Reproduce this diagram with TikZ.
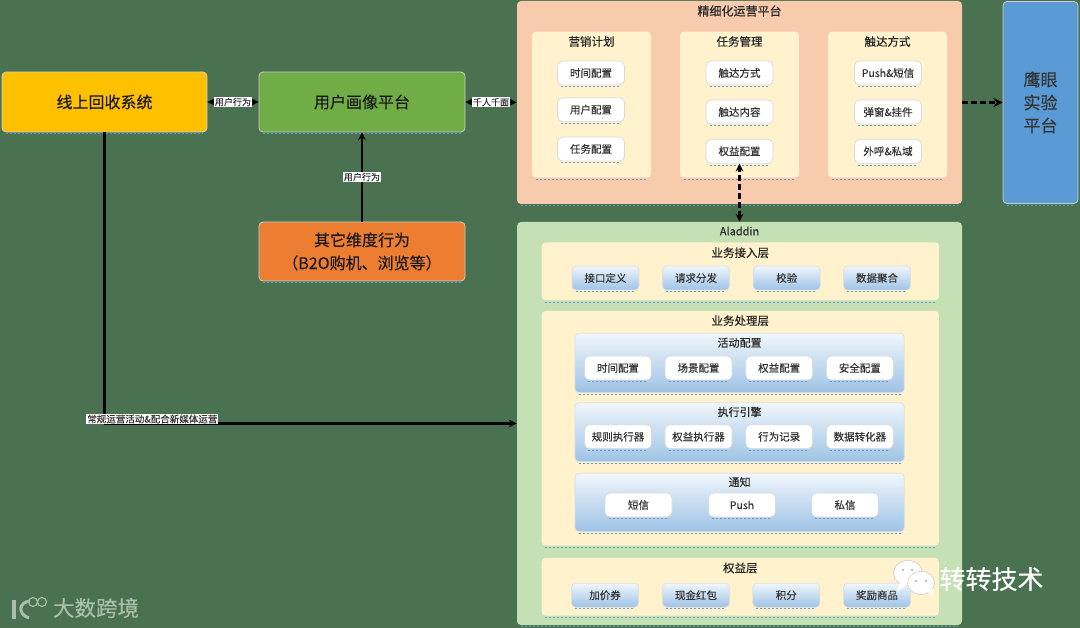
\documentclass[tikz,border=0pt]{standalone}
\usepackage{fontspec}
\setmainfont{Noto Sans CJK SC}[FakeBold=0.15]
\definecolor{bggreen}{HTML}{4A7250}
\definecolor{peach}{HTML}{F8CBAD}
\definecolor{leaf}{HTML}{C5E0B4}
\definecolor{cream}{HTML}{FFF2CC}
\definecolor{sky}{HTML}{9DC3E6}
\definecolor{mark}{HTML}{5B9BD5}
\definecolor{fadegray}{HTML}{A9BFAB}
\definecolor{amber}{HTML}{FFC000}
\definecolor{grass}{HTML}{70AD47}
\definecolor{carrot}{HTML}{ED7D31}
\tikzset{every picture/.style={line width=0.75pt}}
\tikzset{
  under/.style={append after command={([xshift=4pt,yshift=-1.2pt]\tikzlastnode.south west) edge[draw=mark,line width=0.7pt,dash pattern=on 2pt off 2pt] ([xshift=-4pt,yshift=-1.2pt]\tikzlastnode.south east)}},
  bigbox/.style={draw=gray!40,rounded corners=4pt,inner sep=0pt,under,font=\fontsize{16}{23}\selectfont,align=center,text=black!90},
  panel/.style={rounded corners=4pt,inner sep=0pt,under},
  block/.style={fill=cream,rounded corners=4pt,inner sep=0pt,under},
  grad/.style={draw=gray!25,top color=white!85!sky,bottom color=sky,rounded corners=4pt,inner sep=0pt,under},
  cell/.style={fill=white,draw=gray!30,rounded corners=5pt,minimum width=67pt,minimum height=24pt,inner sep=0pt,under,font=\fontsize{10.5}{12}\selectfont,text=black!80},
  chip/.style={grad,minimum width=67pt,minimum height=24pt,font=\fontsize{10.5}{12}\selectfont,text=black!80},
  head/.style={inner sep=0pt,font=\fontsize{11.5}{13}\selectfont,text=black!85},
  tag/.style={fill=white,inner sep=1pt,font=\fontsize{9}{10}\selectfont,text=black!80},
  link/.style={draw=black,line width=2.4pt,>=stealth},
  dlink/.style={link,dash pattern=on 6pt off 3pt}
}
\begin{document}
\begin{tikzpicture}[x=1pt,y=-1pt,line join=round]
\path[use as bounding box,fill=bggreen] (0,0) rectangle (1080,628);
% left column
\node[bigbox,fill=amber,minimum width=205pt,minimum height=60pt] (recycle) at (104.5,102) {线上回收系统};
\node[bigbox,fill=grass,minimum width=206pt,minimum height=60pt] (portrait) at (362,102) {用户画像平台};
\node[bigbox,fill=carrot,minimum width=206pt,minimum height=59pt] (other) at (362,251.5) {其它维度行为\\（B2O购机、浏览等）};
\node[bigbox,fill=mark,minimum width=75pt,minimum height=202pt,text=black!80,font=\fontsize{17}{23}\selectfont] (hawk) at (1040.5,102.5) {鹰眼\\实验\\平台};
% operation platform
\node[panel,fill=peach,minimum width=445pt,minimum height=203pt] (platform) at (739.5,102.5) {};
\node[head,font=\fontsize{12}{14}\selectfont] (platformt) at (739.5,11) {精细化运营平台};
\foreach \n/\x/\t in {plan/591.5/营销计划,task/739.5/任务管理,reach/887.5/触达方式}{
  \node[block,minimum width=119pt,minimum height=146pt] (\n) at (\x,104.7) {};
  \node[head] (\n t) at (\x,41.5) {\t};
}
\foreach \n/\x/\y/\t in {p1/591/73/时间配置,p2/591/109.7/用户配置,p3/591/149/任务配置,
  t1/739.5/73/触达方式,t2/739.5/112/触达内容,t3/739.5/151.3/权益配置,
  r1/888/73/Push\&短信,r2/888/112/弹窗\&挂件,r3/888/151.3/外呼\&私域}
  \node[cell] (\n) at (\x,\y) {\t};
% aladdin
\node[panel,fill=leaf,minimum width=445pt,minimum height=403pt] (aladdin) at (739.5,423.5) {};
\node[head,font=\fontsize{11}{13}\selectfont] (aladdint) at (739.5,231) {Aladdin};
\foreach \n/\y/\h/\ty/\t in {access/271.3/58/252.7/业务接入层,logic/428.3/234.7/320.7/业务处理层,benefit/586.8/57.7/568/权益层}{
  \node[block,minimum width=397.3pt,minimum height=\h pt] (\n) at (740.3,\y) {};
  \node[head] (\n t) at (740.3,\ty) {\t};
}
\foreach \n/\y/\h/\ty/\t in {config/363/59.4/342.7/活动配置,engine/432.2/59/412/执行引擎,notice/502.5/58.4/482/通知}{
  \node[grad,minimum width=329.3pt,minimum height=\h pt] (\n) at (739.6,\y) {};
  \node[head,font=\fontsize{11}{13}\selectfont] (\n t) at (739.6,\ty) {\t};
}
\foreach \n/\x/\t in {a1/605.5/接口定义,a2/696/请求分发,a3/786.7/校验,a4/877/数据聚合}
  \node[chip] (\n) at (\x,278) {\t};
\foreach \n/\x/\t in {c1/618/时间配置,c2/698.5/场景配置,c3/779.2/权益配置,c4/859.8/安全配置}
  \node[cell] (\n) at (\x,368) {\t};
\foreach \n/\x/\t in {e1/618/规则执行器,e2/698.5/权益执行器,e3/779.2/行为记录,e4/859.8/数据转化器}
  \node[cell] (\n) at (\x,436.7) {\t};
\foreach \n/\x/\t in {n1/638.5/短信,n2/742/Push,n3/845/私信}
  \node[cell] (\n) at (\x,505) {\t};
\foreach \n/\x/\t in {b1/605/加价券,b2/696/现金红包,b3/786.3/积分,b4/877/奖励商品}
  \node[chip] (\n) at (\x,595.2) {\t};
% connectors
\draw[link,<->] (recycle) -- node[tag] (tagone) {用户行为} (portrait);
\draw[link,<->] (portrait) -- node[tag] (tagtwo) {千人千面} (platform);
\draw[link,->] (other) -- node[tag] (tagthree) {用户行为} (portrait);
\draw[link,->] (recycle.south) |- node[tag,pos=0.558,yshift=4.5pt,font=\fontsize{9.5}{10}\selectfont] (tagfour) {常规运营活动\&配合新媒体运营} (aladdin.west);
\draw[dlink,->,line width=3pt] (platform) -- (hawk);
\draw[dlink,<->] (aladdin.north) -- (t3.south);
% watermarks
\fill[white,draw=gray!45,line width=0.5pt] (908,573) ellipse (14.5 and 12.5);
\fill[white] (900,583)--(897,591)--(907,585)--cycle;
\fill[white,draw=gray!45,line width=0.5pt] (921,583) ellipse (13.5 and 11.5);
\fill[white] (928,592)--(934,597)--(932,588)--cycle;
\fill[gray!70] (903,570) circle (1.1) (912,570) circle (1.1) (916,581) circle (1.1) (926,581) circle (1.1);
\node[inner sep=0pt,text=white,font=\fontsize{26}{28}\selectfont] (wechat) at (991.5,579) {转转技术};
\draw[fadegray,line width=4pt] (14,600)--(14,619);
\draw[fadegray,line width=3pt] (30,601) .. controls (19,602) and (17,614) .. (29,618);
\draw[fadegray,line width=1.1pt] (33,602) circle (4.5) (42,602) circle (4.5);
\node[inner sep=0pt,text=fadegray,font=\fontsize{21.5}{23}\selectfont] (brand) at (96,608) {大数跨境};
\end{tikzpicture}
\end{document}
